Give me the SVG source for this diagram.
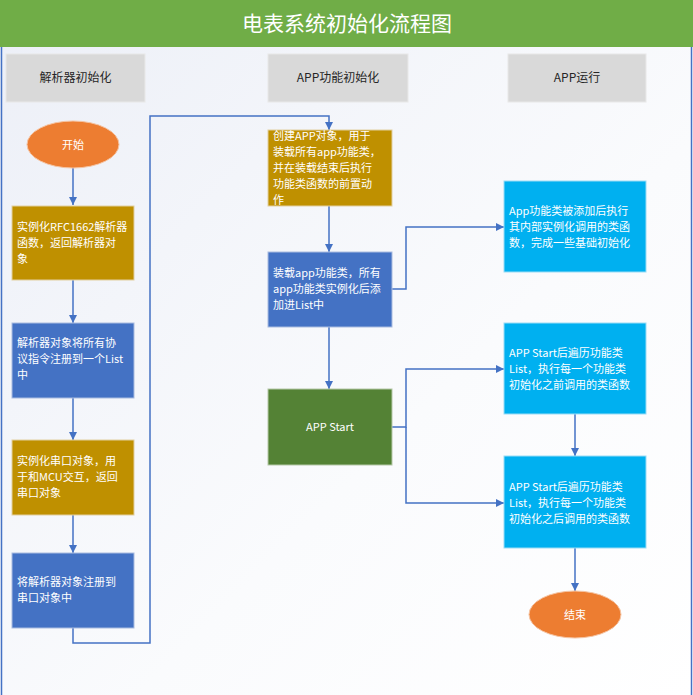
<svg xmlns="http://www.w3.org/2000/svg" width="693" height="695" viewBox="0 0 693 695">
<defs>
<linearGradient id="bg" x1="0" y1="0" x2="1" y2="1">
<stop offset="0" stop-color="#ECEFF7"/>
<stop offset="0.6" stop-color="#FAFBFD"/>
<stop offset="1" stop-color="#FFFFFF"/>
</linearGradient>
<marker id="arr" markerUnits="userSpaceOnUse" markerWidth="10" markerHeight="10" refX="9" refY="5" orient="auto">
<path d="M1,1 L9,5 L1,9 z" fill="#4472C4"/>
</marker>
<style>
.t{font-family:"Noto Sans CJK SC","Liberation Sans",sans-serif;font-size:11px;fill:#FFFFFF}
.h{font-family:"Noto Sans CJK SC","Liberation Sans",sans-serif;font-size:12px;fill:#262626;text-anchor:middle}
.hdr{fill:#D9D9D9;stroke:#E8E8E8;stroke-width:1}
.gold{fill:#BF9000;stroke:#E2CFA0;stroke-width:1}
.blue{fill:#4472C4;stroke:#A9BCE0;stroke-width:1}
.green{fill:#548235;stroke:#B5C8A8;stroke-width:1}
.cyan{fill:#00B0F0;stroke:#9ADCF5;stroke-width:1}
.oval{fill:#ED7D31;stroke:#F5C4A3;stroke-width:1}
.c{fill:none;stroke:#4472C4;stroke-width:1.5}
</style>
</defs>
<rect x="0" y="0" width="693" height="695" fill="url(#bg)"/>
<g id="frame">
<rect x="0" y="0" width="693" height="47" fill="#70AD47"/>
<line x1="1.5" y1="47" x2="1.5" y2="695" stroke="#4472C4" stroke-width="1.5"/>
<line x1="691.5" y1="47" x2="691.5" y2="695" stroke="#4472C4" stroke-width="1.5"/>
<text x="347" y="31" text-anchor="middle" font-family="'Noto Sans CJK SC','Liberation Sans',sans-serif" font-size="21" fill="#FFFFFF">电表系统初始化流程图</text>
</g>
<g id="header1"><rect class="hdr" x="6" y="54" width="139" height="48"/><text class="h" x="75.5" y="82">解析器初始化</text></g>
<g id="header2"><rect class="hdr" x="268" y="54" width="140" height="48"/><text class="h" x="338" y="82">APP功能初始化</text></g>
<g id="header3"><rect class="hdr" x="508" y="54" width="138" height="48"/><text class="h" x="577" y="82">APP运行</text></g>
<g id="connectors">
<path class="c" d="M73,168 V205" marker-end="url(#arr)"/>
<path class="c" d="M73,280 V323" marker-end="url(#arr)"/>
<path class="c" d="M73,398 V440" marker-end="url(#arr)"/>
<path class="c" d="M73,515 V553" marker-end="url(#arr)"/>
<path class="c" d="M73,628 V643 H150 V116 H329 V130" marker-end="url(#arr)"/>
<path class="c" d="M329,206 V252" marker-end="url(#arr)"/>
<path class="c" d="M329,327 V389" marker-end="url(#arr)"/>
<path class="c" d="M392,289 H406 V227 H504" marker-end="url(#arr)"/>
<path class="c" d="M392,427 H406 V369 H504" marker-end="url(#arr)"/>
<path class="c" d="M406,427 V503 H504" marker-end="url(#arr)"/>
<path class="c" d="M575,414 V456" marker-end="url(#arr)"/>
<path class="c" d="M575,548 V591" marker-end="url(#arr)"/>
</g>
<g id="start"><ellipse class="oval" cx="73" cy="144.5" rx="46" ry="23.5"/><text class="t" x="73" y="148.5" text-anchor="middle">开始</text></g>
<g id="n1"><rect class="gold" x="12" y="206" width="122" height="74"/><text class="t"><tspan x="17" y="231">实例化RFC1662解析器</tspan><tspan x="17" y="247">函数，返回解析器对</tspan><tspan x="17" y="263">象</tspan></text></g>
<g id="n2"><rect class="blue" x="12" y="323" width="122" height="75"/><text class="t"><tspan x="17" y="346.5">解析器对象将所有协</tspan><tspan x="17" y="362.5">议指令注册到一个List</tspan><tspan x="17" y="378.5">中</tspan></text></g>
<g id="n3"><rect class="gold" x="12" y="440" width="122" height="75"/><text class="t"><tspan x="17" y="465">实例化串口对象，用</tspan><tspan x="17" y="481">于和MCU交互，返回</tspan><tspan x="17" y="497">串口对象</tspan></text></g>
<g id="n4"><rect class="blue" x="12" y="553" width="122" height="75"/><text class="t"><tspan x="17" y="585.5">将解析器对象注册到</tspan><tspan x="17" y="601.5">串口对象中</tspan></text></g>
<g id="n5"><rect class="gold" x="268" y="130" width="124" height="76"/><text class="t"><tspan x="273" y="140">创建APP对象，用于</tspan><tspan x="273" y="156">装载所有app功能类，</tspan><tspan x="273" y="172">并在装载结束后执行</tspan><tspan x="273" y="188">功能类函数的前置动</tspan><tspan x="273" y="204">作</tspan></text></g>
<g id="n6"><rect class="blue" x="268" y="252" width="124" height="75"/><text class="t"><tspan x="273" y="276.5">装载app功能类，所有</tspan><tspan x="273" y="292.5">app功能类实例化后添</tspan><tspan x="273" y="308.5">加进List中</tspan></text></g>
<g id="n7"><rect class="green" x="268" y="389" width="124" height="76"/><text class="t" x="330" y="431" text-anchor="middle">APP Start</text></g>
<g id="n8"><rect class="cyan" x="504" y="181" width="142" height="91"/><text class="t"><tspan x="509" y="215">App功能类被添加后执行</tspan><tspan x="509" y="231">其内部实例化调用的类函</tspan><tspan x="509" y="247">数，完成一些基础初始化</tspan></text></g>
<g id="n9"><rect class="cyan" x="504" y="323" width="142" height="91"/><text class="t"><tspan x="509" y="357">APP Start后遍历功能类</tspan><tspan x="509" y="373">List，执行每一个功能类</tspan><tspan x="509" y="389">初始化之前调用的类函数</tspan></text></g>
<g id="n10"><rect class="cyan" x="504" y="456" width="142" height="92"/><text class="t"><tspan x="509" y="490.5">APP Start后遍历功能类</tspan><tspan x="509" y="506.5">List，执行每一个功能类</tspan><tspan x="509" y="522.5">初始化之后调用的类函数</tspan></text></g>
<g id="end"><ellipse class="oval" cx="575" cy="614.5" rx="46" ry="23.5"/><text class="t" x="575" y="618.5" text-anchor="middle">结束</text></g>
</svg>
